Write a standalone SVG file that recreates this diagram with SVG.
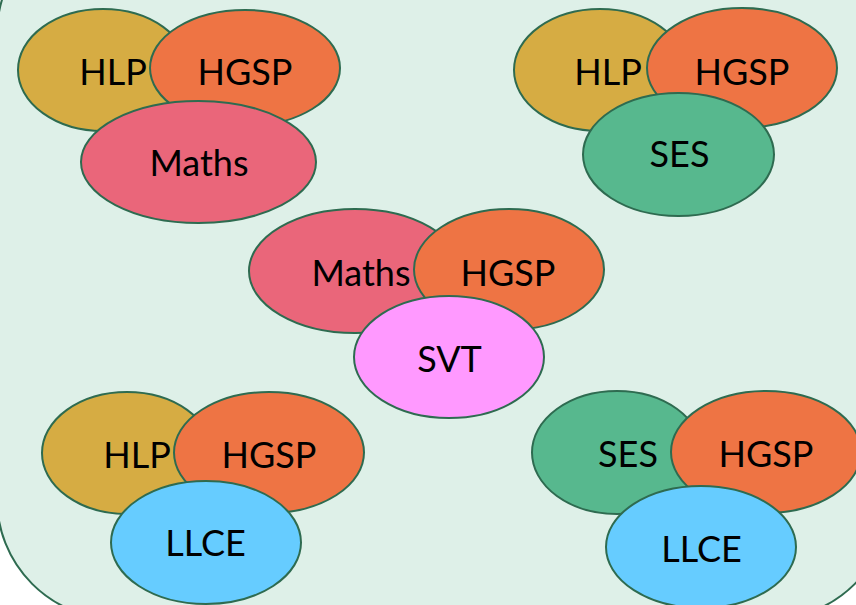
<svg xmlns="http://www.w3.org/2000/svg" width="856" height="605" viewBox="0 0 856 605">
<style>
.e{stroke:#2E6B50;stroke-width:2}
.hlp{fill:#D6AC43}
.hgsp{fill:#EE7444}
.maths{fill:#EA667A}
.ses{fill:#57B88E}
.svt{fill:#FF99FF}
.llce{fill:#66CCFF}
text{font-family:Lato,"Open Sans","Liberation Sans",sans-serif;font-size:36px;fill:#000;text-anchor:middle}
</style>
<rect x="0" y="0" width="856" height="605" fill="#FFFFFF"/>
<rect id="bg" x="-3" y="-86" width="893" height="705" rx="120" ry="120" fill="#DEF0E8" stroke="#2E6B50" stroke-width="2"/>
<g id="connectors"></g>
<g id="group-top-left">
  <g id="tl-hlp"><ellipse class="e hlp" cx="103" cy="70" rx="85" ry="61"/><text x="113" y="85">HLP</text></g>
  <g id="tl-hgsp"><ellipse class="e hgsp" cx="245" cy="68" rx="95" ry="58"/><text x="245" y="85">HGSP</text></g>
  <g id="tl-maths"><ellipse class="e maths" cx="198.5" cy="162" rx="117.5" ry="61"/><text x="199" y="176">Maths</text></g>
</g>
<g id="group-top-right">
  <g id="tr-hlp"><ellipse class="e hlp" cx="600" cy="70" rx="86" ry="61"/><text x="608" y="85">HLP</text></g>
  <g id="tr-hgsp"><ellipse class="e hgsp" cx="742" cy="68" rx="95" ry="60"/><text x="742" y="85">HGSP</text></g>
  <g id="tr-ses"><ellipse class="e ses" cx="678.5" cy="154.5" rx="95.5" ry="61.5"/><text x="679.5" y="167">SES</text></g>
</g>
<g id="group-middle">
  <g id="m-maths"><ellipse class="e maths" cx="355" cy="271" rx="106" ry="62"/><text x="361" y="286">Maths</text></g>
  <g id="m-hgsp"><ellipse class="e hgsp" cx="509" cy="269.5" rx="95" ry="60.5"/><text x="508" y="286">HGSP</text></g>
  <g id="m-svt"><ellipse class="e svt" cx="449" cy="357" rx="95" ry="61"/><text x="449.5" y="372">SVT</text></g>
</g>
<g id="group-bottom-left">
  <g id="bl-hlp"><ellipse class="e hlp" cx="127" cy="453" rx="85" ry="61"/><text x="137" y="468">HLP</text></g>
  <g id="bl-hgsp"><ellipse class="e hgsp" cx="269" cy="452.5" rx="95" ry="60.5"/><text x="269" y="468">HGSP</text></g>
  <g id="bl-llce"><ellipse class="e llce" cx="206" cy="542.5" rx="95" ry="61.5"/><text x="205.5" y="556">LLCE</text></g>
</g>
<g id="group-bottom-right">
  <g id="br-ses"><ellipse class="e ses" cx="617" cy="452.5" rx="85" ry="61.5"/><text x="628" y="467">SES</text></g>
  <g id="br-hgsp"><ellipse class="e hgsp" cx="766" cy="452" rx="95" ry="61"/><text x="766" y="467">HGSP</text></g>
  <g id="br-llce"><ellipse class="e llce" cx="701" cy="547" rx="95" ry="61"/><text x="701.5" y="562">LLCE</text></g>
</g>
</svg>
